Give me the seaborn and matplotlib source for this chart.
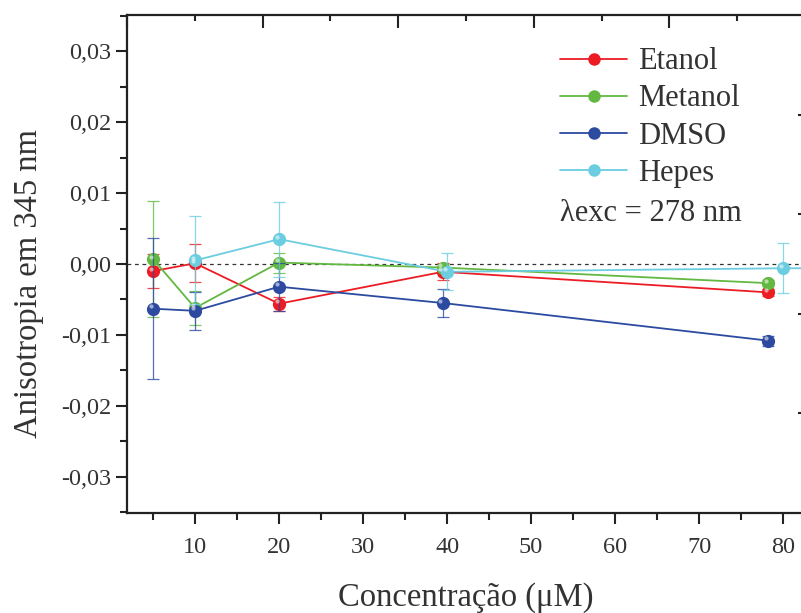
import pandas as pd
import matplotlib
matplotlib.use("Agg")
import matplotlib.pyplot as plt
import matplotlib.transforms as mtransforms
from matplotlib.ticker import MultipleLocator, FuncFormatter
from matplotlib.lines import Line2D
import seaborn as sns

# Data
solvents = ["Etanol", "Metanol", "DMSO", "Hepes"]
colors = ["#ec1c24", "#62b841", "#2c4aa0", "#6ccde0"]

etanol_x = [5, 10, 20, 39.5, 78.2]
etanol_y = [-0.0010, 0.0001, -0.0056, -0.0011, -0.0040]
etanol_err = [0.0024, 0.0027, 0.0010, 0.0012, 0.0005]

metanol_x = [5, 10, 20, 39.5, 78.2]
metanol_y = [0.0007, -0.0062, 0.0002, -0.0005, -0.0027]
metanol_err = [0.0082, 0.0024, 0.0014, 0.0005, 0.0004]

dmso_x = [5, 10, 20, 39.5, 78.2]
dmso_y = [-0.0063, -0.0066, -0.0032, -0.0055, -0.0108]
dmso_err = [0.0099, 0.0027, 0.0034, 0.0020, 0.0007]

hepes_x = [10, 20, 40, 80, 100]
hepes_y = [0.0005, 0.0035, -0.0011, -0.0006, -0.0006]
hepes_err = [0.0062, 0.0053, 0.0026, 0.0035, 0.0]

series = {
    "Etanol": (etanol_x, etanol_y, etanol_err),
    "Metanol": (metanol_x, metanol_y, metanol_err),
    "DMSO": (dmso_x, dmso_y, dmso_err),
    "Hepes": (hepes_x, hepes_y, hepes_err),
}

rows = []
for name, (xs, ys, es) in series.items():
    for x, y, e in zip(xs, ys, es):
        rows.append({"solvente": name, "conc": x, "aniso": y, "err": e})
df = pd.DataFrame(rows)

sns.set_theme(style="ticks")
plt.rcParams["font.family"] = ["Liberation Serif", "DejaVu Serif"]

fig = plt.figure(figsize=(8.01, 6.13), dpi=100)
ax = fig.add_axes([127 / 801, 100 / 613, 678 / 801, 498 / 613])

ax.axhline(0, color="#333333", lw=0.9, ls=(0, (3, 3)), zorder=1)

palette = dict(zip(solvents, colors))
for i, name in enumerate(solvents):
    sub = df[df["solvente"] == name]
    ax.errorbar(sub["conc"], sub["aniso"], yerr=sub["err"], fmt="none",
                ecolor=colors[i], elinewidth=0.9, capsize=4, capthick=0.9,
                alpha=0.8, zorder=2 + i)

sns.lineplot(data=df, x="conc", y="aniso", hue="solvente", palette=palette,
             hue_order=solvents, sort=False, estimator=None, marker="o",
             markersize=9.5, markeredgewidth=0, linewidth=1.3, legend=False,
             ax=ax, zorder=3)

# sphere highlight
shift = mtransforms.ScaledTranslation(-1.8 / 72, 1.8 / 72, fig.dpi_scale_trans)
for name in solvents:
    sub = df[df["solvente"] == name]
    ax.plot(sub["conc"], sub["aniso"], "o", ms=3, color="white", alpha=0.55,
            mew=0, transform=ax.transData + shift, zorder=10)

ax.set_xlim(1.9, 82.6)
ax.set_ylim(-0.0351, 0.0351)
ax.xaxis.set_major_locator(MultipleLocator(10))
ax.xaxis.set_minor_locator(MultipleLocator(5))
ax.yaxis.set_major_locator(MultipleLocator(0.01))
ax.yaxis.set_minor_locator(MultipleLocator(0.005))
ax.yaxis.set_major_formatter(FuncFormatter(lambda v, p: f"{v:.2f}".replace(".", ",").replace("-0,00", "0,00")))

ax.tick_params(axis="both", which="major", direction="out", length=8, width=1.5,
               labelsize=17.5, color="#222222", labelcolor="#333333", top=False, right=False)
ax.tick_params(axis="both", which="minor", direction="out", length=5, width=1.5,
               color="#222222", top=False, right=False)
ax.tick_params(axis="x", pad=9)

for side in ["left", "bottom", "top"]:
    ax.spines[side].set_linewidth(1.6)
    ax.spines[side].set_color("#222222")
ax.spines["right"].set_visible(False)

ax.set_xlabel("Concentração (μM)", fontsize=23.5, color="#333333", labelpad=18)
ax.set_ylabel("Anisotropia em 345 nm", fontsize=23.5, color="#333333")
ax.yaxis.set_label_coords(-0.122, 0.46)

# extra top/right tick rows from the original layered graph
ax_top = ax.twiny()
ax_top.set_xlim(0, 5)
ax_top.xaxis.set_major_locator(MultipleLocator(1))
ax_top.xaxis.set_minor_locator(MultipleLocator(0.5))
ax_top.tick_params(axis="x", which="major", direction="in", length=9, width=1.5,
                   labeltop=False, color="#222222")
ax_top.tick_params(axis="x", which="minor", direction="in", length=4, width=1.5,
                   color="#222222")
for s in ax_top.spines.values():
    s.set_visible(False)

ax_right = ax.twinx()
ax_right.set_ylim(0, 5)
ax_right.set_yticks([1, 2, 3, 4])
ax_right.tick_params(axis="y", direction="in", length=5, width=1.5,
                     labelright=False, color="#222222")
for s in ax_right.spines.values():
    s.set_visible(False)

handles = [Line2D([0], [0], color=c, lw=1.3, marker="o", ms=9, mew=0)
           for c in colors]
leg = ax.legend(handles, solvents, loc="upper left", bbox_to_anchor=(0.639, 0.935),
                frameon=False, fontsize=22, handlelength=2.2, handletextpad=0.35,
                labelspacing=0.265, borderaxespad=0, borderpad=0)
for t in leg.get_texts():
    t.set_color("#333333")
ax.text(0.639, 0.602, "λexc = 278 nm", transform=ax.transAxes, fontsize=22,
        color="#333333", va="center", ha="left")

fig.savefig("out.png", dpi=100)
